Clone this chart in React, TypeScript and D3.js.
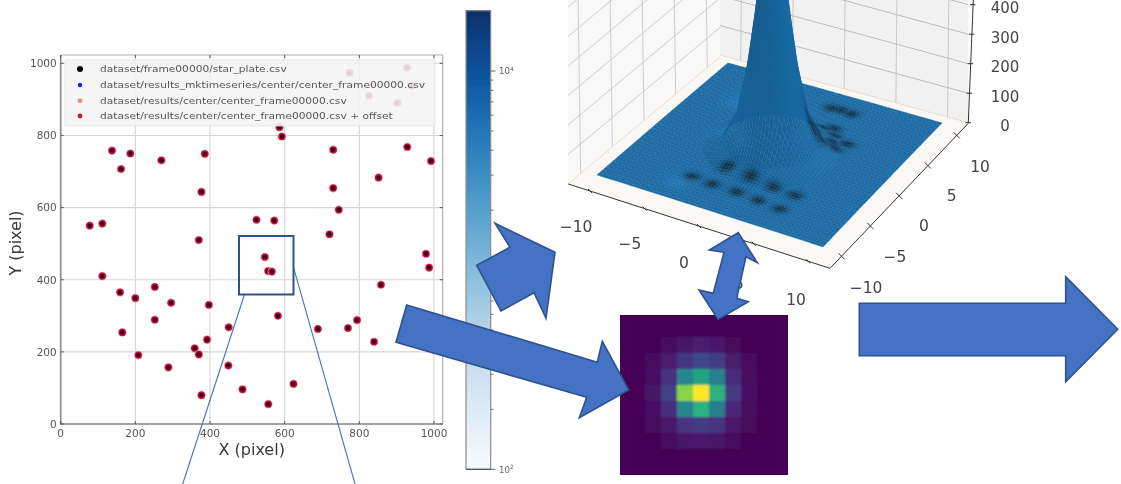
import React from "react";
import * as d3 from "d3";

// ---------- scatter data ----------
const starX = [137.5,186.6,161.7,269.7,386,377,77.7,111.5,370,524.4,572,547,586,592.5,730,730,745,720,851.5,928.4,992,978.5,987,858,111.5,159,200,252,295.7,252,397,165,208,288.5,359,370,392,450,449,377,487,556,623.6,582,689,769.5,794,839.5,555.5,565.7,774,928,826,902,940];
const starY = [758,750,707,731,749,643.5,550,555.6,510,566,564,463,823,797,760,654,594,526,683,768,729,472,433.6,386,410,365,349,380,336,289,330,254,191,157,210,193,234,268,162,80,96,55,111,300,263.5,266,288,228,424,422.5,974,988,910,890,938];
const axisTicks = [0,200,400,600,800,1000];
const legendLabels = [
  "dataset/frame00000/star_plate.csv",
  "dataset/results_mktimeseries/center/center_frame00000.csv",
  "dataset/results/center/center_frame00000.csv",
  "dataset/results/center/center_frame00000.csv + offset",
];
const legendEnds = [286.7, 425, 346.7, 392.7];
const legendColors = ["#000000", "#1a1ae0", "#f08a8a", "#c8143c"];

// ---------- colourbar ----------
const cbMajor = [100, 1000, 10000];
const cbMinor = [200,300,400,500,600,700,800,900,2000,3000,4000,5000,6000,7000,8000,9000];

// ---------- heatmap (viridis fraction, 11 x 11) ----------
const heat = [
  [0,0,0,0,0,0,0,0,0,0,0],
  [0,0,0,0,.01,.015,.01,0,0,0,0],
  [0,0,0,.02,.05,.07,.06,.02,0,0,0],
  [0,0,.025,.07,.16,.21,.18,.07,.02,0,0],
  [0,0,.04,.14,.45,.58,.43,.12,.03,0,0],
  [0,0,.05,.19,.82,1,.64,.17,.04,0,0],
  [0,0,.04,.13,.45,.64,.42,.11,.03,0,0],
  [0,0,.02,.06,.15,.17,.15,.06,.02,0,0],
  [0,0,0,.02,.05,.06,.05,.02,0,0,0],
  [0,0,0,0,.01,.01,.01,0,0,0,0],
  [0,0,0,0,0,0,0,0,0,0,0],
];
const heatIndex = d3.range(11);

// ---------- 3D surface ----------
const surfTicks = [-10,-5,0,5,10];
const zTicks = [0,100,200,300,400];
const paneZ = [0,100,200,300,400,500,600];
const peakRadius = [0,.5,.9,1.25,1.96,2.82,4,5.5,7,15];
const peakHeight = [1100,950,700,508,295,125,35,8,2,0];
const darkSpotX = [-3.6,-1.7,-1.55,.53,.69,2.55,2.8,4.56,4.7,1,2.8,2.74,3.94,3.04,4.39,2.15,3.4,2.2,3.3,1.8,4.8];
const darkSpotY = [-6.4,-6.6,-4.4,-6.67,-4.7,-6.86,-4.82,-7.03,-4.8,7.84,7.8,5.09,2.82,1.19,2.27,2.86,4,4.4,1.9,7.9,3.6];
const lightSpotX = [-6.16,-4.19,-4.09,-2.2,-1.2];
const lightSpotY = [4.97,-.29,-7.7,-1.8,-3];

const xTickLabelPos = [[576,226],[630,243],[684,262],[739,283],[796,299]];
const yTickLabelPos = [[866,287],[895,256],[924,225],[951.7,195],[980,166.7]];

// ---------- annotation shapes ----------
const arrowNE: [number,number][] = [[495,223.3],[555,252.3],[546,318.3],[534,292.7],[501,311],[476.7,265.3],[510,247.3]];
const arrowLong: [number,number][] = [[406.7,305],[597.3,362.3],[602.3,341.3],[628.7,390],[579.3,417.7],[586.7,397.3],[396,342.3]];
const arrowRight: [number,number][] = [[859.3,303.3],[1065.7,303.3],[1065.7,276.7],[1117.7,329.3],[1065.7,381.7],[1065.7,355.7],[859.3,355.7]];
const arrowDouble: [number,number][] = [[738.3,232.7],[757.3,262.7],[746,256.7],[736.7,298.3],[748.3,301.7],[718,319.5],[699,290],[713.3,293.3],[724,252.3],[709.3,250]];

const FONT = "'DejaVu Sans', sans-serif";
const closed = d3.line().curve(d3.curveLinearClosed);

// scales
const sx = d3.scaleLinear().domain([0,1000]).range([60.7,434]);
const sy = d3.scaleLinear().domain([0,1000]).range([424,63.3]);
const cbY = d3.scaleLog().domain([100,10000]).range([469.3,71]);
const peak = d3.scaleLinear().domain(peakRadius).range(peakHeight).clamp(true);

// floor projection
const corners = { L:[597,175], B:[823,247], R:[942,123], T:[728,63] };
const unit = d3.scaleLinear().domain([-10,10]).range([0,1]);
const zPx = d3.scaleLinear().domain([0,100]).range([0,29.5]);
function project(x:number,y:number,z:number):[number,number]{
  const u=unit(x), v=unit(y);
  const px=(1-u)*(1-v)*corners.L[0]+u*(1-v)*corners.B[0]+u*v*corners.R[0]+(1-u)*v*corners.T[0];
  const py=(1-u)*(1-v)*corners.L[1]+u*(1-v)*corners.B[1]+u*v*corners.R[1]+(1-u)*v*corners.T[1];
  return [px,py-zPx(z)];
}
const h = (x:number,y:number)=>peak(Math.hypot(x,y));

function buildSurface(){
  const N=72;
  const g=d3.scaleLinear().domain([0,N]).range([-10,10]);
  const cells:{d:string;fill:string;k:number}[]=[];
  const light=[.5,.5,.707];
  for(let i=0;i<N;i++)for(let j=0;j<N;j++){
    const x0=g(i),x1=g(i+1),y0=g(j),y1=g(j+1);
    const xc=(x0+x1)/2,yc=(y0+y1)/2;
    const dzx=(h(x1,yc)-h(x0,yc))/(x1-x0)*0.055;
    const dzy=(h(xc,y1)-h(xc,y0))/(y1-y0)*0.055;
    const len=Math.hypot(dzx,dzy,1);
    const dot=(-dzx*light[0]-dzy*light[1]+light[2])/len;
    const steep=len>1.25;
    let f=steep?.9+.1*(dot-.3):.95;
    let dark=0;
    darkSpotX.forEach((sxv,n)=>{
      const dist=Math.hypot(xc-sxv,(yc-darkSpotY[n])*1.2);
      dark=Math.max(dark,Math.exp(-dist*dist/(0.42)));
    });
    let lite=0;
    lightSpotX.forEach((sxv,n)=>{
      const dist=Math.hypot(xc-sxv,yc-lightSpotY[n]);
      lite=Math.max(lite,Math.exp(-dist*dist/1.2));
    });
    f*=1-.55*dark;
    f*=1+.1*lite;
    if(!steep&&(i+j)%2===0)f*=.95;
    const c=d3.rgb(28*f,114*f,176*f);
    cells.push({
      k:xc-yc,
      fill:c.formatHex(),
      d:closed([project(x0,y0,h(x0,y0)),project(x1,y0,h(x1,y0)),project(x1,y1,h(x1,y1)),project(x0,y1,h(x0,y1))]) as string,
    });
  }
  return cells.sort((a,b)=>a.k-b.k);
}
const surface=buildSurface();

// panes
const leftX=d3.scaleLinear().domain([-12,12]).range([568,720]);
const leftY=d3.scaleLinear().domain([-12,12]).range([184,57]);
const rightX=d3.scaleLinear().domain([-12,12]).range([720,968.3]);
const rightY=d3.scaleLinear().domain([-12,12]).range([55,122.7]);
const leftP=(t:number,z:number):[number,number]=>[leftX(t),leftY(t)-zPx(z)];
const rightP=(t:number,z:number):[number,number]=>[rightX(t),rightY(t)-zPx(z)];
// floor edges
const edgeFrontX=(t:number):[number,number]=>[d3.scaleLinear().domain([-12,12]).range([568.3,830])(t),d3.scaleLinear().domain([-12,12]).range([184,268.3])(t)];
const edgeFrontY=(t:number):[number,number]=>[d3.scaleLinear().domain([-12,12]).range([830,968.3])(t),d3.scaleLinear().domain([-12,12]).range([268.3,123.3])(t)];

function Scatter(){
  const box={l:60.7,r:442.7,t:55,b:424};
  return <g fontFamily={FONT} filter="url(#blurS)">
    {axisTicks.map(t=><line key={"gx"+t} x1={sx(t)} x2={sx(t)} y1={box.t} y2={box.b} stroke="#d4d4d4" strokeWidth={1.1}/>)}
    {axisTicks.map(t=><line key={"gy"+t} x1={box.l} x2={box.r} y1={sy(t)} y2={sy(t)} stroke="#d4d4d4" strokeWidth={1.1}/>)}
    <path d={`M${box.l},${box.t}H${box.r}V${box.b}`} fill="none" stroke="#b0b0b0" strokeWidth={1.2}/>
    <path d={`M${box.l},${box.t}V${box.b}H${box.r}`} fill="none" stroke="#8c8c8c" strokeWidth={1.6}/>
    {axisTicks.map(t=><g key={"tx"+t}>
      <line x1={sx(t)} x2={sx(t)} y1={box.b} y2={box.b-3} stroke="#555"/>
      <line x1={sx(t)} x2={sx(t)} y1={box.t} y2={box.t+3} stroke="#555"/>
      <text x={sx(t)} y={box.b+12.5} textAnchor="middle" fontSize={10.5} fill="#555">{t}</text>
    </g>)}
    {axisTicks.map(t=><g key={"ty"+t}>
      <line x1={box.l} x2={box.l+3} y1={sy(t)} y2={sy(t)} stroke="#555"/>
      <line x1={box.r} x2={box.r-3} y1={sy(t)} y2={sy(t)} stroke="#555"/>
      <text x={56.7} y={sy(t)+3.8} textAnchor="end" fontSize={10.5} fill="#555">{t}</text>
    </g>)}
    {starX.map((x,i)=><g key={i}>
      <circle cx={sx(x)} cy={sy(starY[i])} r={4.3} fill="#f3a0b2"/>
      <circle cx={sx(x)} cy={sy(starY[i])} r={3.6} fill="#b40f3a"/>
      <circle cx={sx(x)} cy={sy(starY[i])} r={2.2} fill="#3c0012"/>
    </g>)}
    <rect x={65} y={60} width={370} height={66} fill="#f4f4f4" fillOpacity={.88} stroke="#e2e2e2" strokeWidth={.8}/>
    {legendLabels.map((l,i)=>{
      const y=[69,85,100.7,116][i];
      return <g key={l}>
        <circle cx={80} cy={y} r={i===0?3:i===1?2.2:2.4} fill={legendColors[i]}/>
        <text x={100} y={y+3.1} fontSize={9} fill="#555" textLength={legendEnds[i]-100} lengthAdjust="spacingAndGlyphs">{l}</text>
      </g>;
    })}
    <text x={251.7} y={454.5} textAnchor="middle" fontSize={16} fill="#3a3a3a">X (pixel)</text>
    <text transform="translate(20.5,243) rotate(-90)" textAnchor="middle" fontSize={16} fill="#3a3a3a">Y (pixel)</text>
  </g>;
}

function Colorbar(){
  const ys=d3.range(10,470,1);
  const color=(y:number)=>{
    const t=(469.3-y)/(469.3-10.7);
    return d3.interpolateBlues(Math.min(1,t));
  };
  return <g fontFamily={FONT} filter="url(#blurS)">
    {ys.map(y=><rect key={y} x={466} y={y} width={24.7} height={1.6} fill={color(y)}/>)}
    <rect x={466} y={10.7} width={24.7} height={458.6} fill="none" stroke="#8c8c8c" strokeWidth={1.2}/>
    <line x1={466} x2={490.7} y1={469.3} y2={469.3} stroke="#444" strokeWidth={1}/>
    {cbMinor.map(v=><line key={v} x1={490.7} x2={493.5} y1={cbY(v)} y2={cbY(v)} stroke="#555" strokeWidth={.8}/>)}
    {cbMajor.map(v=><g key={v}>
      <line x1={490.7} x2={495.5} y1={cbY(v)} y2={cbY(v)} stroke="#555" strokeWidth={.9}/>
      <text x={499} y={cbY(v)+3.4} fontSize={8.6} fill="#666">10<tspan dy={-3.5} fontSize={6}>{Math.round(Math.log10(v))}</tspan></text>
    </g>)}
  </g>;
}

function Surface3D(){
  return <g fontFamily={FONT} filter="url(#blurM)">
    <polygon points={[leftP(-12,0),leftP(-12,700),leftP(12,700),leftP(12,0)].join(" ")} fill="#f8f8f8"/>
    <polygon points={[rightP(-12,0),rightP(-12,700),rightP(12,700),rightP(12,0)].join(" ")} fill="#f1f1f1"/>
    <polygon points={[edgeFrontX(-12),edgeFrontX(12),edgeFrontY(12),rightP(-12,0)].join(" ")} fill="#faf8f5"/>
    {surfTicks.map(t=><line key={"lv"+t} x1={leftP(t,0)[0]} y1={leftP(t,0)[1]} x2={leftP(t,700)[0]-3} y2={leftP(t,700)[1]} stroke="#cdcdcd" strokeWidth={1}/>)}
    {surfTicks.map(t=><line key={"rv"+t} x1={rightP(t,0)[0]} y1={rightP(t,0)[1]} x2={rightP(t,700)[0]+2} y2={rightP(t,700)[1]} stroke="#c8c8c8" strokeWidth={1}/>)}
    {paneZ.map(z=><line key={"lz"+z} x1={leftP(-12,z)[0]} y1={leftP(-12,z)[1]} x2={leftP(12,z)[0]} y2={leftP(12,z)[1]} stroke={z===0?"#ecdccc":"#cdcdcd"} strokeWidth={1}/>)}
    {paneZ.map(z=><line key={"rz"+z} x1={rightP(-12,z)[0]} y1={rightP(-12,z)[1]} x2={rightP(12,z)[0]} y2={rightP(12,z)[1]} stroke={z===0?"#ecdccc":"#bdbdbd"} strokeWidth={1}/>)}
    {surface.map((c,i)=><path key={i} d={c.d} fill={c.fill} stroke={c.fill} strokeWidth={.4}/>)}
    {/* axes */}
    <line x1={568.3} y1={184} x2={830} y2={268.3} stroke="#333" strokeWidth={1}/>
    <line x1={830} y1={268.3} x2={968.3} y2={123.3} stroke="#333" strokeWidth={1}/>
    <line x1={968.3} y1={122.7} x2={973.5} y2={-5} stroke="#333" strokeWidth={1}/>
    {surfTicks.map(t=>{
      const p=edgeFrontX(t);
      return <line key={"xt"+t} x1={p[0]-2} y1={p[1]-2} x2={p[0]+2} y2={p[1]+2} stroke="#333"/>;
    })}
    {surfTicks.map(t=>{
      const p=edgeFrontY(t);
      return <line key={"yt"+t} x1={p[0]-3} y1={p[1]-3} x2={p[0]+3} y2={p[1]+3} stroke="#333"/>;
    })}
    {zTicks.map(z=><g key={"zt"+z}>
      <line x1={968+z*.011-2.5} x2={968+z*.011+3} y1={122.7-zPx(z)} y2={122.7-zPx(z)} stroke="#333"/>
      <text x={1005} y={122.7-zPx(z)+8.5} textAnchor="middle" fontSize={15} fill="#444">{z}</text>
    </g>)}
    {surfTicks.map((t,i)=><text key={"xl"+t} x={xTickLabelPos[i][0]} y={xTickLabelPos[i][1]+5.5} textAnchor="middle" fontSize={15.5} fill="#444">{t<0?"\u2212"+(-t):t}</text>)}
    {surfTicks.map((t,i)=><text key={"yl"+t} x={yTickLabelPos[i][0]} y={yTickLabelPos[i][1]+5.5} textAnchor="middle" fontSize={15.5} fill="#444">{t<0?"\u2212"+(-t):t}</text>)}
  </g>;
}

function Heatmap(){
  const bx=d3.scaleBand<number>().domain(heatIndex).range([613,789]);
  const by=d3.scaleBand<number>().domain(heatIndex).range([305,481]);
  return <g clipPath="url(#heatClip)">
    <rect x={620} y={315} width={168} height={160} fill="#440154"/>
    <g filter="url(#blurH)">
      {heat.map((row,r)=>row.map((v,c)=><rect key={r+"-"+c} x={bx(c)} y={by(r)} width={bx.bandwidth()+.3} height={by.bandwidth()+.3} fill={d3.interpolateViridis(v)}/>))}
    </g>
  </g>;
}

export default function App(){
  const arrowStyle={fill:"#4472c4",stroke:"#2f528f",strokeWidth:1.6};
  return <svg width={1121} height={484} viewBox="0 0 1121 484" style={{position:"absolute",left:0,top:0,display:"block",background:"#fff"}}>
    <defs>
      <filter id="blurS" x="-5%" y="-5%" width="110%" height="110%"><feGaussianBlur stdDeviation={.65}/></filter>
      <filter id="blurM" x="-5%" y="-5%" width="110%" height="110%"><feGaussianBlur stdDeviation={.7}/></filter>
      <filter id="blurH" x="-5%" y="-5%" width="110%" height="110%"><feGaussianBlur stdDeviation={1.3}/></filter>
      <clipPath id="heatClip"><rect x={620} y={315} width={168} height={160}/></clipPath>
    </defs>
    <Surface3D/>
    <Scatter/>
    <Colorbar/>
    <Heatmap/>
    <line x1={244.3} y1={295} x2={182.7} y2={484} stroke="#4472c4" strokeWidth={1.1}/>
    <line x1={293.3} y1={266.7} x2={355} y2={484} stroke="#4472c4" strokeWidth={1.1}/>
    <rect x={239} y={236} width={54.5} height={58.5} fill="none" stroke="#2f528f" strokeWidth={2}/>
    {[arrowNE,arrowLong,arrowRight,arrowDouble].map((a,i)=><path key={i} d={closed(a) as string} {...arrowStyle}/>)}
  </svg>;
}
